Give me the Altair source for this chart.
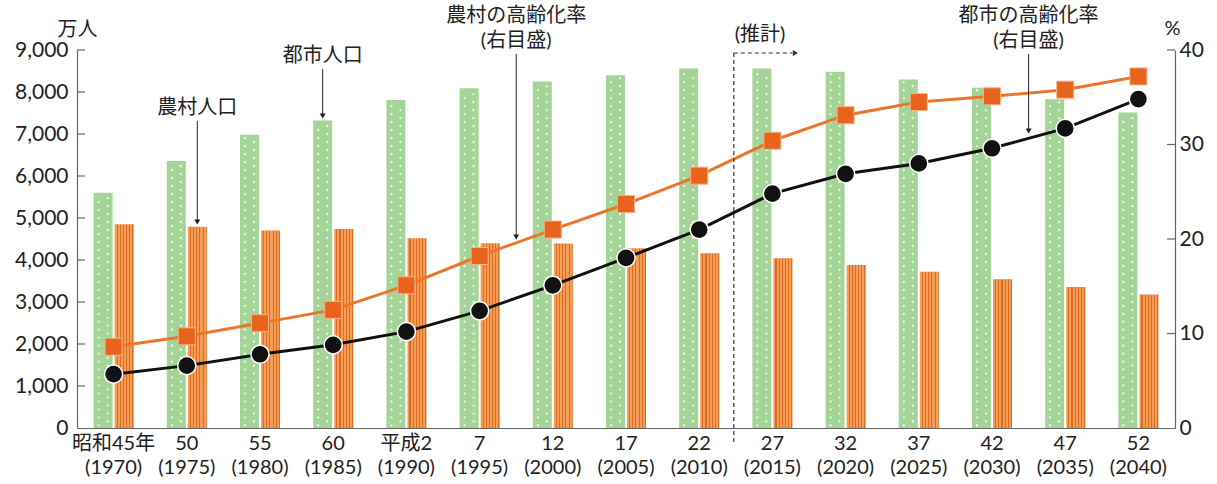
import altair as alt
import pandas as pd

# ---- data ----
eras = ["昭和45年", "50", "55", "60", "平成2", "7", "12", "17", "22",
        "27", "32", "37", "42", "47", "52"]
years = [1970, 1975, 1980, 1985, 1990, 1995, 2000, 2005, 2010,
         2015, 2020, 2025, 2030, 2035, 2040]
urban_pop = [5600, 6360, 6980, 7320, 7810, 8090, 8250, 8400, 8560,
             8560, 8480, 8300, 8100, 7830, 7510]
rural_pop = [4850, 4790, 4700, 4740, 4520, 4400, 4390, 4280, 4160,
             4040, 3880, 3720, 3540, 3360, 3180]
urban_rate = [5.7, 6.6, 7.8, 8.8, 10.2, 12.4, 15.1, 18.0, 21.0,
              24.8, 26.9, 28.0, 29.6, 31.7, 34.8]
rural_rate = [8.6, 9.7, 11.1, 12.5, 15.1, 18.2, 21.0, 23.7, 26.7,
              30.4, 33.1, 34.5, 35.1, 35.8, 37.2]
pop_ticks = [1000, 2000, 3000, 4000, 5000, 6000, 7000, 8000, 9000]
rate_ticks = [10, 20, 30, 40]

cats = [f"{e}|({y})" for e, y in zip(eras, years)]
df = pd.DataFrame({"cat": cats, "urban": urban_pop, "rural": rural_pop,
                   "urate": urban_rate, "rrate": rural_rate})

FONT = "Lato, 'Noto Sans CJK JP', sans-serif"
INK = "#222222"
AX = "#666666"
W, H = 1098, 378

x_enc = alt.X("cat:N", sort=cats,
              scale=alt.Scale(domain=cats, paddingInner=0, paddingOuter=0),
              axis=alt.Axis(title=None, labelExpr="split(datum.value, '|')",
                            ticks=False, labelAngle=0, labelFontSize=20,
                            labelLineHeight=24, labelPadding=5,
                            labelBaseline="top", domainColor=AX))

ypop = alt.Scale(domain=[0, 9000], nice=False, zero=True)
yrate = alt.Scale(domain=[0, 40], nice=False, zero=True)

pop_axis = alt.Axis(title="万人", titleAngle=0, titleX=0, titleY=-21,
                    titleAlign="center", titleBaseline="middle",
                    titleFontSize=20, titleFontWeight="normal",
                    titleColor=INK,
                    values=list(range(0, 9001, 1000)), format=",.0f",
                    labelFontSize=21, ticks=False, labelPadding=9,
                    grid=False, domainColor=AX)
rate_axis = alt.Axis(orient="right", title="%", titleAngle=0,
                     titleX=-3, titleY=-22, titleAlign="center",
                     titleBaseline="middle", titleFontSize=20,
                     titleFontWeight="normal", titleColor=INK,
                     values=[0, 10, 20, 30, 40], format=".0f",
                     labelFontSize=21, ticks=False, labelPadding=4,
                     grid=False, domainColor=AX)

base = alt.Chart(df)

green = base.mark_bar(width=19, xOffset=-10.5, color="#a4d497").encode(
    x=x_enc, y=alt.Y("urban:Q", scale=ypop, axis=pop_axis, title="万人"))

dots = base.transform_calculate(
    idx="sequence(0, floor((datum.urban - 120) / 95) + 1)"
).transform_flatten(["idx"]).transform_calculate(
    dy="60 + datum.idx * 95", par="datum.idx % 2")

dots_a = dots.transform_filter("datum.par == 0").mark_circle(
    size=5, color="white", opacity=0.9, xOffset=-15).encode(
    x=x_enc, y=alt.Y("dy:Q", scale=ypop, axis=pop_axis, title="万人"))
dots_b = dots.transform_filter("datum.par == 1").mark_circle(
    size=5, color="white", opacity=0.9, xOffset=-6).encode(
    x=x_enc, y=alt.Y("dy:Q", scale=ypop, axis=pop_axis, title="万人"))

stripe_stops = []
n = 6
for i in range(n):
    a = i / n
    b = (i + 0.65) / n
    c = (i + 1) / n
    stripe_stops += [alt.GradientStop(color="#f39d57", offset=a),
                     alt.GradientStop(color="#f39d57", offset=b),
                     alt.GradientStop(color="#e06a1e", offset=b),
                     alt.GradientStop(color="#e06a1e", offset=c)]
orange_grad = alt.Gradient(gradient="linear", stops=stripe_stops,
                           x1=0, x2=1, y1=0, y2=0)

orange = base.mark_bar(width=19, xOffset=10.5, color=orange_grad).encode(
    x=x_enc, y=alt.Y("rural:Q", scale=ypop, axis=pop_axis, title="万人"))

# inward ticks of the left axis
lt = alt.Chart(pd.DataFrame({"v": pop_ticks})).mark_rule(
    color=AX, strokeWidth=1.2).encode(
    x=alt.value(0), x2=alt.value(8),
    y=alt.Y("v:Q", scale=ypop, axis=pop_axis, title="万人"))

bars = alt.layer(green, dots_a, dots_b, orange, lt)

# ---- rate lines (right axis) ----
r_line = base.mark_line(color="#e9772b", strokeWidth=3).encode(
    x=x_enc, y=alt.Y("rrate:Q", scale=yrate, axis=rate_axis, title="%"))
r_pts = base.mark_point(shape="square", filled=True, size=290,
                        color="#e8641c", stroke="#f7b183", strokeWidth=1,
                        opacity=1).encode(
    x=x_enc, y=alt.Y("rrate:Q", scale=yrate, axis=rate_axis, title="%"))
u_line = base.mark_line(color="#111111", strokeWidth=3).encode(
    x=x_enc, y=alt.Y("urate:Q", scale=yrate, axis=rate_axis, title="%"))
u_pts = base.mark_point(shape="circle", filled=True, size=330,
                        color="#111111", stroke="white", strokeWidth=1.5,
                        opacity=1).encode(
    x=x_enc, y=alt.Y("urate:Q", scale=yrate, axis=rate_axis, title="%"))
rt = alt.Chart(pd.DataFrame({"v": rate_ticks})).mark_rule(
    color=AX, strokeWidth=1.2).encode(
    x=alt.value(W - 8), x2=alt.value(W),
    y=alt.Y("v:Q", scale=yrate, axis=rate_axis, title="%"))

rates = alt.layer(rt, r_line, r_pts, u_line, u_pts)

# ---- annotations ----
one = pd.DataFrame({"k": [0]})
TOP = 50  # plot-area top in page pixels


def text(cat, dx, py, s, size=20):
    return alt.Chart(one).mark_text(
        text=s, font=FONT, fontSize=size, color=INK, align="center",
        baseline="middle", xOffset=dx).encode(
        x=alt.X(datum=cat), y=alt.value(py - TOP))


def arrow(cat, dx, py1, py2):
    r = alt.Chart(one).mark_rule(color=INK, strokeWidth=1, xOffset=dx).encode(
        x=alt.X(datum=cat), y=alt.value(py1 - TOP), y2=alt.value(py2 - 4 - TOP))
    h = alt.Chart(one).mark_point(shape="triangle-down", filled=True, size=36,
                                  color=INK, opacity=1, xOffset=dx).encode(
        x=alt.X(datum=cat), y=alt.value(py2 - 4 - TOP))
    return [r, h]


ann = []
ann.append(text(cats[1], 10.5, 108, "農村人口"))
ann += arrow(cats[1], 10.5, 121, 226)
ann.append(text(cats[3], -10.5, 56, "都市人口"))
ann += arrow(cats[3], -10.5, 69, 120)
ann.append(text(cats[5], 36.6, 16, "農村の高齢化率"))
ann.append(text(cats[5], 36.6, 40.5, "(右目盛)"))
ann += arrow(cats[5], 36.6, 54, 241)
ann.append(text(cats[12], 36.6, 16, "都市の高齢化率"))
ann.append(text(cats[12], 36.6, 40.5, "(右目盛)"))
ann += arrow(cats[12], 36.6, 54, 135)
ann.append(text(cats[9], -12.4, 35, "(推計)"))
ann.append(alt.Chart(one).mark_rule(color="#333333", strokeWidth=1.2,
                                    strokeDash=[4, 3], xOffset=-38.6).encode(
    x=alt.X(datum=cats[9]), y=alt.value(53 - TOP), y2=alt.value(442 - TOP)))
ann.append(alt.Chart(one).mark_rule(color="#333333", strokeWidth=1.2,
                                    strokeDash=[4, 3], xOffset=-38.6,
                                    x2Offset=20).encode(
    x=alt.X(datum=cats[9]), x2=alt.X2(datum=cats[9]), y=alt.value(53 - TOP)))
ann.append(alt.Chart(one).mark_point(shape="triangle-right", filled=True,
                                     size=36, color="#333333", opacity=1,
                                     xOffset=23).encode(
    x=alt.X(datum=cats[9]), y=alt.value(53 - TOP)))

annotations = alt.layer(*ann)

chart = alt.layer(bars, rates, annotations).resolve_scale(
    y="independent"
).properties(
    width=W, height=H,
    padding={"left": 77, "top": 50, "right": 42, "bottom": 56},
    autosize=alt.AutoSizeParams(type="none"),
    background="white",
).configure_view(stroke=None).configure_axis(
    labelFont=FONT, titleFont=FONT, labelColor=INK, domainColor=AX,
    domainWidth=1.2
)

chart.save("out.html", embed_options={"renderer": "svg", "actions": False})
